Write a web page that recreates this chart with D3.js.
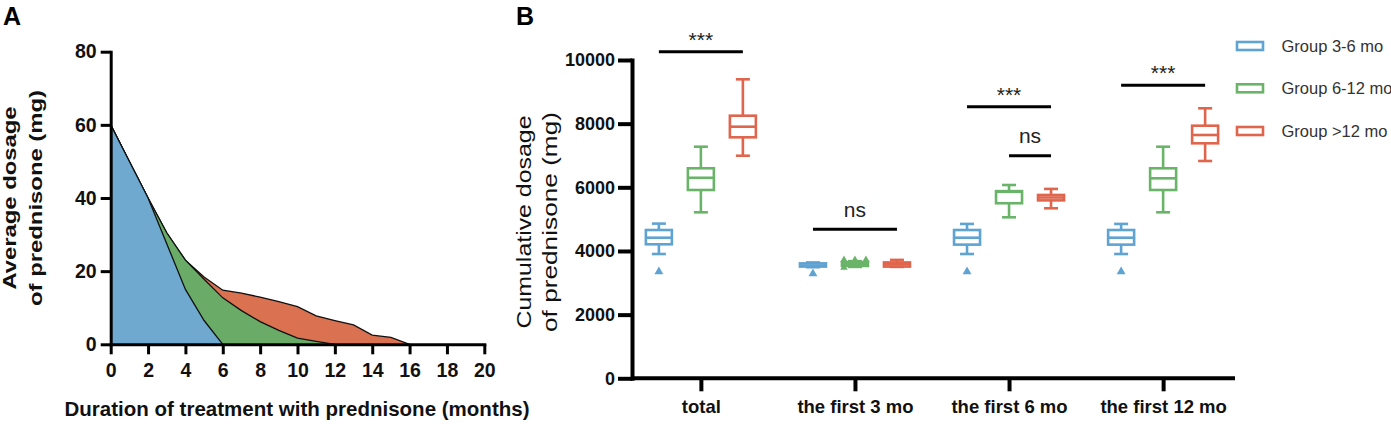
<!DOCTYPE html>
<html><head><meta charset="utf-8">
<script src="https://cdn.jsdelivr.net/npm/d3@7"></script>
<style>
body{margin:0;background:#fff;}
svg{display:block;font-family:Arial,"Liberation Sans",sans-serif;}
</style></head><body>
<svg id="c" width="1391" height="424"></svg>
<script>
// ---------- Panel A data ----------
const months = [0,1,2,3,4,5,6,7,8,9,10,11,12,13,14,15,16];
const blueDose  = [60,50,40,27.5,15,6.5,0];
const greenDose = [60,50,40,30.5,23,17.8,12.7,9.2,6.2,3.8,1.7,0.8,0];
const redDose   = [60,50,40,30.5,23,18.4,14.8,14.0,12.9,11.7,10.3,7.8,6.5,5.3,2.5,1.9,0];
const xTicksA = [0,2,4,6,8,10,12,14,16,18,20];
const yTicksA = [0,20,40,60,80];

// ---------- Panel B data ----------
const categories = ["total","the first 3 mo","the first 6 mo","the first 12 mo"];
const groups = ["Group 3-6 mo","Group 6-12 mo","Group >12 mo"];
// [whisker low, Q1, median, Q3, whisker high]
const blueStats  = [[3905,4210,4417,4659,4860],[3490,3510,3545,3610,3640],[3905,4200,4417,4659,4850],[3905,4200,4417,4659,4850]];
const greenStats = [[5215,5916,6300,6598,7276],[3500,3530,3600,3650,3680],[5058,5500,5860,5880,6073],[5215,5916,6283,6598,7276]];
const redStats   = [[6993,7571,7905,8250,9393],[3500,3510,3580,3640,3720],[5341,5590,5680,5760,5950],[6827,7383,7644,7936,8482]];
const blueOutliers  = [[3349],[3290],[3349],[3349]];
const greenOutliers = [[],[3720,3720,3720,3480],[],[]];
const redOutliers   = [[],[],[],[]];
const yTicksB = [0,2000,4000,6000,8000,10000];
const sigCat   = [0,1,2,2,3];
const sigFrom  = [0,0,0,1,0];
const sigTo    = [2,2,2,2,2];
const sigLevel = [10260,4680,8530,6990,9210];
const sigLabel = ["***","ns","***","ns","***"];

const areaColors = ["#6fa9cf","#6aab68","#da7150"];
const boxColors  = ["#5fa3d3","#6ab46a","#e0654d"];

const svg = d3.select("#c");

// ================= Panel A =================
const xA = d3.scaleLinear().domain([0,20]).range([110.7,484.3]);
const yA = d3.scaleLinear().domain([0,80]).range([344.3,51.7]);
const seriesA = [redDose, greenDose, blueDose];
const colA = [areaColors[2], areaColors[1], areaColors[0]];
seriesA.forEach((vals,k)=>{
  const pts = vals.map((v,i)=>({m:months[i],v:v}));
  svg.append("path").datum(pts)
    .attr("d", d3.area().x(d=>xA(d.m)).y0(yA(0)).y1(d=>yA(d.v)))
    .attr("fill", colA[k]);
  svg.append("path").datum(pts)
    .attr("d", d3.line().x(d=>xA(d.m)).y(d=>yA(d.v)))
    .attr("fill","none").attr("stroke","#111").attr("stroke-width",1.3);
});

function styleAxis(g, sw, fs){
  g.select(".domain").attr("stroke","#000").attr("stroke-width",sw).attr("stroke-linecap","square");
  g.selectAll(".tick line").attr("stroke","#000").attr("stroke-width",sw);
  g.selectAll(".tick text").attr("font-size",fs).attr("font-weight","bold").attr("fill","#111")
    .attr("font-family",'Arial,"Liberation Sans",sans-serif');
}
const gxA = svg.append("g").attr("transform",`translate(0,${yA(0)})`)
  .call(d3.axisBottom(xA).tickValues(xTicksA).tickSize(10).tickSizeOuter(0).tickPadding(9));
styleAxis(gxA,3,19.5);
const gyA = svg.append("g").attr("transform",`translate(${xA(0)},0)`)
  .call(d3.axisLeft(yA).tickValues(yTicksA).tickSize(10).tickSizeOuter(0).tickPadding(4));
styleAxis(gyA,3,19.5);

svg.append("text").text("Duration of treatment with prednisone (months)")
  .attr("x",297).attr("y",415.5).attr("text-anchor","middle")
  .attr("font-size",21).attr("font-weight","bold").attr("fill","#111")
  .attr("textLength",465).attr("lengthAdjust","spacingAndGlyphs");
svg.append("text").text("Average dosage")
  .attr("transform","translate(15.5,198) rotate(-90)").attr("text-anchor","middle")
  .attr("font-size",18.5).attr("font-weight","bold").attr("fill","#111")
  .attr("textLength",183).attr("lengthAdjust","spacingAndGlyphs");
svg.append("text").text("of prednisone (mg)")
  .attr("transform","translate(41.5,198) rotate(-90)").attr("text-anchor","middle")
  .attr("font-size",18.5).attr("font-weight","bold").attr("fill","#111")
  .attr("textLength",216).attr("lengthAdjust","spacingAndGlyphs");
svg.append("text").text("A").attr("x",3).attr("y",25).attr("font-size",25).attr("font-weight","bold").attr("fill","#000");
svg.append("text").text("B").attr("x",516).attr("y",25).attr("font-size",25).attr("font-weight","bold").attr("fill","#000");

// ================= Panel B =================
const xB = d3.scalePoint().domain(categories).range([630,1234]).padding(0.46);
const xG = d3.scaleBand().domain(groups).range([-63,63]);
const yB = d3.scaleLinear().domain([0,10000]).range([378.3,60]);
const statsAll = [blueStats, greenStats, redStats];
const outAll = [blueOutliers, greenOutliers, redOutliers];
const boxW = 26, capW = 14, sw = 2.6;
const cxOf = (ci,gi)=> xB(categories[ci]) + xG(groups[gi]) + xG.bandwidth()/2;

categories.forEach((cat,ci)=>{
  groups.forEach((grp,gi)=>{
    const s = statsAll[gi][ci];
    const cx = cxOf(ci,gi);
    const col = boxColors[gi];
    const g = svg.append("g").attr("stroke",col).attr("stroke-width",sw).attr("fill","none");
    g.append("line").attr("x1",cx).attr("x2",cx).attr("y1",yB(s[0])).attr("y2",yB(s[1]));
    g.append("line").attr("x1",cx).attr("x2",cx).attr("y1",yB(s[3])).attr("y2",yB(s[4]));
    g.append("line").attr("x1",cx-capW/2).attr("x2",cx+capW/2).attr("y1",yB(s[0])).attr("y2",yB(s[0]));
    g.append("line").attr("x1",cx-capW/2).attr("x2",cx+capW/2).attr("y1",yB(s[4])).attr("y2",yB(s[4]));
    g.append("rect").attr("x",cx-boxW/2).attr("width",boxW)
      .attr("y",yB(s[3])).attr("height",Math.max(0.1,yB(s[1])-yB(s[3])));
    g.append("line").attr("x1",cx-boxW/2).attr("x2",cx+boxW/2).attr("y1",yB(s[2])).attr("y2",yB(s[2]));
    // outliers, spread horizontally when they overlap
    const outs = outAll[gi][ci];
    const clusters = d3.groups(outs, v=>Math.round(v/100));
    clusters.forEach(([k,vals])=>{
      vals.forEach((v,j)=>{
        const dx = vals.length>1 ? (j-(vals.length-1)/2)*11 : (outs.length>1 ? -11 : 0);
        svg.append("path").attr("d",d3.symbol(d3.symbolTriangle).size(outs.length>1?24:34)())
          .attr("transform",`translate(${cx+dx},${yB(v)})`).attr("fill",col);
      });
    });
  });
});

const gyB = svg.append("g").attr("transform","translate(632,0)")
  .call(d3.axisLeft(yB).tickValues(yTicksB).tickFormat(d3.format("d")).tickSize(14).tickSizeOuter(0).tickPadding(3));
styleAxis(gyB,4,18);
const gxB = svg.append("g").attr("transform",`translate(0,${yB(0)})`)
  .call(d3.axisBottom(xB).tickSize(13).tickSizeOuter(0).tickPadding(9));
gxB.select(".domain").attr("d",`M632,0H1235`);
styleAxis(gxB,4,18.5);
gxB.select(".domain").attr("stroke-linecap","butt");

svg.append("text").text("Cumulative dosage")
  .attr("transform","translate(531,222) rotate(-90)").attr("text-anchor","middle")
  .attr("font-size",20.5).attr("fill","#111")
  .attr("textLength",213).attr("lengthAdjust","spacingAndGlyphs");
svg.append("text").text("of prednisone (mg)")
  .attr("transform","translate(556.5,222) rotate(-90)").attr("text-anchor","middle")
  .attr("font-size",20.5).attr("fill","#111")
  .attr("textLength",220).attr("lengthAdjust","spacingAndGlyphs");

// significance
sigCat.forEach((ci,i)=>{
  const x1 = cxOf(ci,sigFrom[i]), x2 = cxOf(ci,sigTo[i]);
  const y = yB(sigLevel[i]);
  svg.append("line").attr("x1",x1).attr("x2",x2).attr("y1",y).attr("y2",y)
    .attr("stroke","#000").attr("stroke-width",3);
  const isStar = sigLabel[i]==="***";
  svg.append("text").text(sigLabel[i]).attr("x",(x1+x2)/2).attr("y", y - (isStar?5:12.5))
    .attr("text-anchor","middle").attr("font-size",21).attr("fill","#222");
});

// legend
const legY = [46,88.3,131];
groups.forEach((grp,gi)=>{
  svg.append("rect").attr("x",1237).attr("y",legY[gi]-4).attr("width",26).attr("height",8)
    .attr("fill","none").attr("stroke",boxColors[gi]).attr("stroke-width",2.6);
  svg.append("text").text(grp).attr("x",1281.5).attr("y",legY[gi]).attr("dy","0.35em")
    .attr("font-size",16.5).attr("fill","#333");
});
</script>
</body></html>
